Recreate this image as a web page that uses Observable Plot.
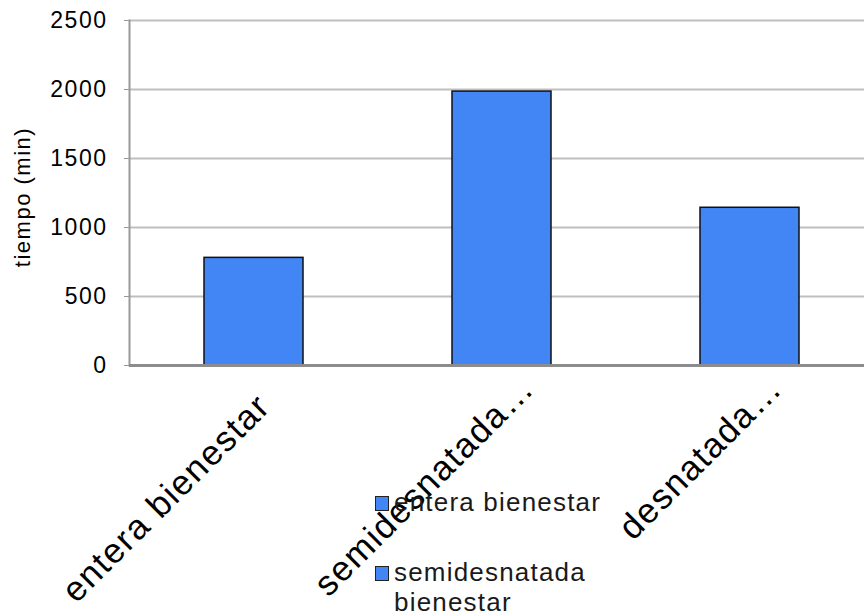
<!DOCTYPE html>
<html><head><meta charset="utf-8">
<script src="https://cdn.jsdelivr.net/npm/d3@7"></script>
<script src="https://cdn.jsdelivr.net/npm/@observablehq/plot@0.6"></script>
<style>
body{margin:0;background:#fff;}
#wrap{position:relative;width:864px;height:616px;overflow:hidden;font-family:"Liberation Sans",Arial,sans-serif;}
#wrap svg{position:absolute;left:0;top:0;}
.legend{position:absolute;left:374px;top:487px;width:236px;font-size:26px;letter-spacing:1.2px;color:#1a1a1a;line-height:30px;}
.item{position:relative;padding-left:20px;margin-bottom:40px;}
.sw{position:absolute;left:1px;top:9px;width:12px;height:13px;background:#4285F4;border:1px solid #222;}
</style></head><body><div id="wrap"></div>
<script>
const categories = ["entera bienestar", "semidesnatada bienestar", "desnatada bienestar"];
const tickLabels = ["entera bienestar", "semidesnatada…", "desnatada…"];
const values = [780, 1985, 1143];
const yTicks = [0, 500, 1000, 1500, 2000, 2500];
const yLabel = "tiempo (min)";
const legendItems = ["entera bienestar", "semidesnatada bienestar"];
const barColor = "#4285F4";

const data = categories.map((c, i) => ({category: c, label: tickLabels[i], value: values[i]}));
const truncated = data.filter(d => d.label.endsWith("…"));
const full = data.filter(d => !d.label.endsWith("…"));
const labelStyle = {fontSize: 35, fill: "#000", rotate: -45, textAnchor: "end", lineAnchor: "bottom", frameAnchor: "bottom"};

const chart = Plot.plot({
  width: 864,
  height: 616,
  marginTop: 20,
  marginBottom: 251,
  marginLeft: 129,
  marginRight: 0,
  style: {fontFamily: "'Liberation Sans', Arial, sans-serif", background: "transparent", overflow: "visible"},
  x: {domain: categories, range: [129, 874.5], paddingInner: 0.6, paddingOuter: 0.3, axis: null},
  y: {domain: [0, 2500], axis: null},
  marks: [
    Plot.ruleY(yTicks.filter(t => t > 0), {stroke: "#bfbfbf", strokeWidth: 2}),
    Plot.axisY({ticks: yTicks, tickSize: 5, tickPadding: 17, stroke: "#999", fill: "#000", fontSize: 23, label: null, tickFormat: d => String(d)}),
    Plot.frame({anchor: "left", stroke: "#999", strokeWidth: 2}),
    Plot.barY(data, {x: "category", y: "value", fill: barColor, stroke: "#111", strokeWidth: 1.5}),
    Plot.ruleY([0], {stroke: "#8c8c8c", strokeWidth: 3}),
    Plot.text([yLabel], {frameAnchor: "left", textAnchor: "middle", rotate: -90, dx: -107, dy: 4, fontSize: 22, fill: "#000"}),
    Plot.text(truncated, {...labelStyle, x: "category", text: "label", dx: 34, dy: 25}),
    Plot.text(full, {...labelStyle, x: "category", text: "label", dx: 18, dy: 43})
  ]
});
chart.querySelectorAll("text").forEach(t => { t.style.letterSpacing = "1.5px"; });
const wrap = document.getElementById("wrap");
wrap.appendChild(chart);
const legend = document.createElement("div");
legend.className = "legend";
legendItems.forEach(name => {
  const it = document.createElement("div");
  it.className = "item";
  const sw = document.createElement("span");
  sw.className = "sw";
  sw.style.background = barColor;
  it.appendChild(sw);
  it.appendChild(document.createTextNode(name));
  legend.appendChild(it);
});
wrap.appendChild(legend);
</script>
</body></html>
